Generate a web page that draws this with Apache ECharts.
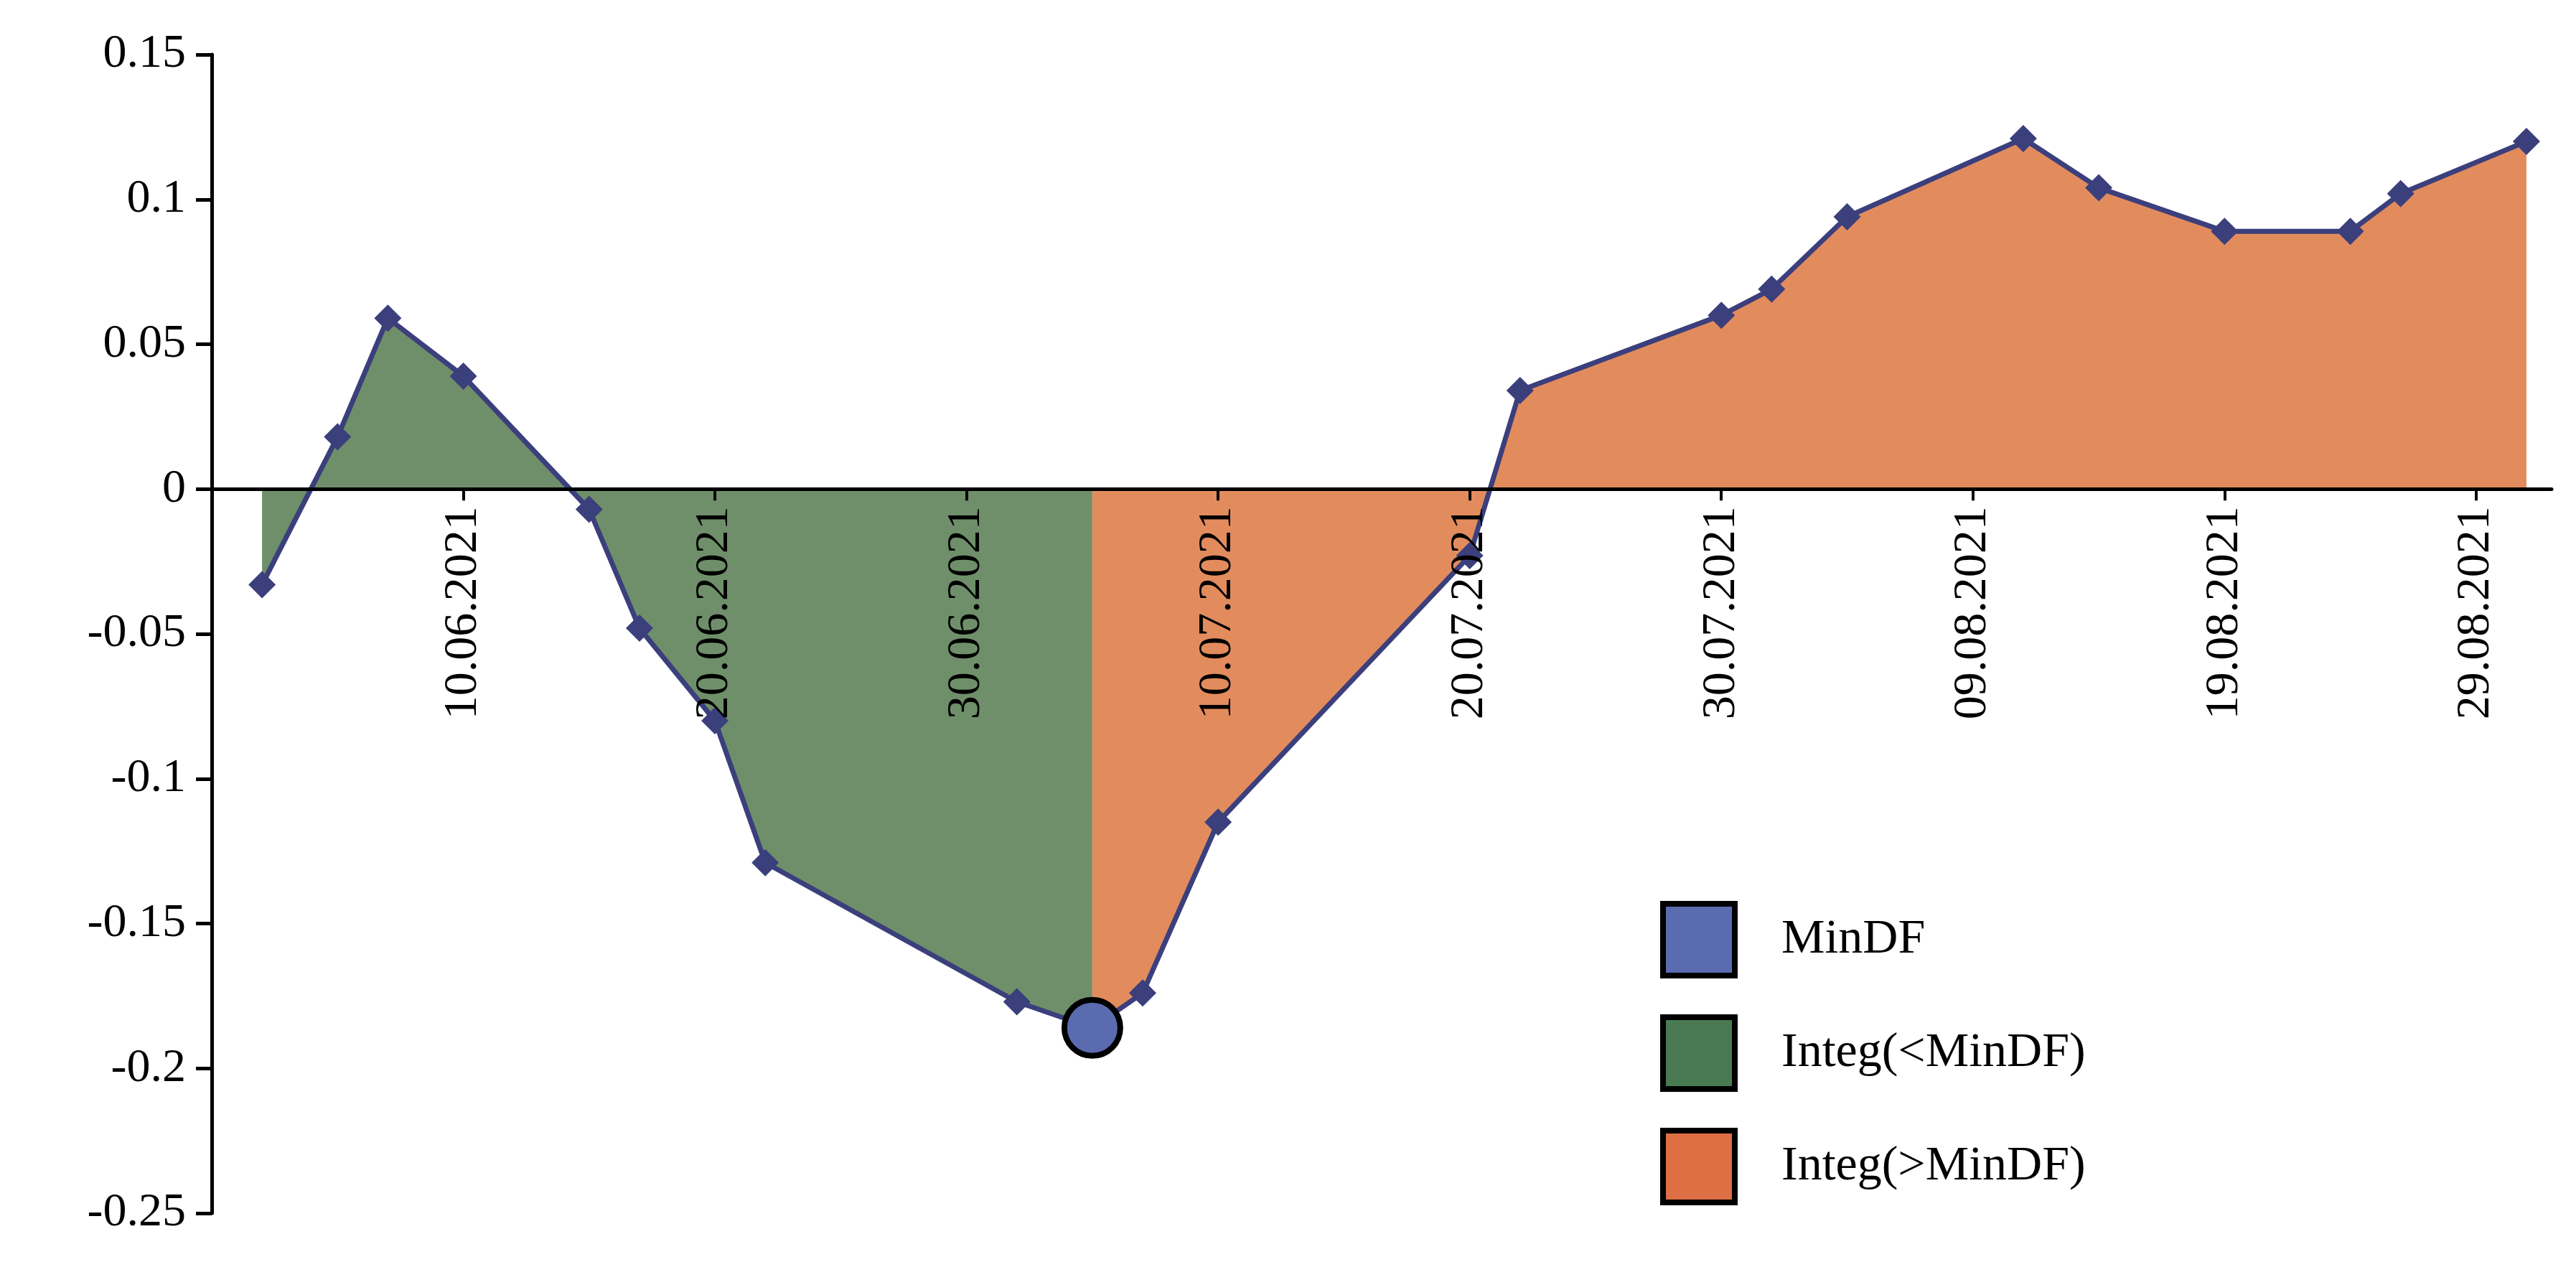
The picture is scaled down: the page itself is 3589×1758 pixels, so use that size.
<!DOCTYPE html>
<html>
<head>
<meta charset="utf-8">
<script src="https://cdn.jsdelivr.net/npm/echarts@6/dist/echarts.min.js"></script>
<style>
	html, body { margin: 0; padding: 0; background: #fff; }
	#chart { width: 3589px; height: 1758px; }
</style>
</head>
<body>
<div id="chart"></div>
<script>
	//数据
	var dates = ['02.06.2021', '05.06.2021', '07.06.2021', '10.06.2021', '15.06.2021', '17.06.2021',
		'20.06.2021', '22.06.2021', '02.07.2021', '05.07.2021', '07.07.2021', '10.07.2021',
		'20.07.2021', '22.07.2021', '30.07.2021', '01.08.2021', '04.08.2021', '11.08.2021',
		'14.08.2021', '19.08.2021', '24.08.2021', '26.08.2021', '31.08.2021'];
	var values = [-0.033, 0.018, 0.059, 0.039, -0.007, -0.048, -0.08, -0.129, -0.177, -0.186, -0.174, -0.115,
		-0.023, 0.034, 0.06, 0.069, 0.094, 0.121, 0.104, 0.089, 0.089, 0.102, 0.12];
	var minDate = '05.07.2021';
	var minValue = -0.186;
	var yTicks = [-0.25, -0.2, -0.15, -0.1, -0.05, 0, 0.05, 0.1, 0.15];
	var startDate = '31.05.2021';

	//日期转天数
	function toUTC(s) {
		var p = s.split('.');
		return Date.UTC(+p[2], +p[1] - 1, +p[0]);
	}
	var t0 = toUTC(startDate);
	function toDay(s) { return (toUTC(s) - t0) / 86400000; }
	function fmtDay(d) {
		var dt = new Date(t0 + d * 86400000);
		var dd = ('0' + dt.getUTCDate()).slice(-2);
		var mm = ('0' + (dt.getUTCMonth() + 1)).slice(-2);
		return dd + '.' + mm + '.' + dt.getUTCFullYear();
	}

	var minX = toDay(minDate);
	var allData = [];
	var greenData = [];
	var orangeData = [];
	for(var i = 0; i < dates.length; i++) {
		var x = toDay(dates[i]);
		allData.push([x, values[i]]);
		if(x <= minX) greenData.push([x, values[i]]);
		if(x >= minX) orangeData.push([x, values[i]]);
	}

	var font = 'Liberation Serif';
	var gridTop = 76, gridBottom = 68;
	var plotH = 1758 - gridTop - gridBottom;
	var yMin = yTicks[0], yMax = yTicks[yTicks.length - 1];
	//零线到底部的距离
	var zeroOffset = plotH * (0 - yMin) / (yMax - yMin);

	var myChart = echarts.init(document.getElementById('chart'));
	var option = {
		animation: false,
		backgroundColor: '#fff',
		grid: { left: 295, right: 34, top: gridTop, bottom: gridBottom },
		legend: {
			orient: 'vertical',
			left: 2308, top: 1250,
			itemWidth: 100, itemHeight: 100, itemGap: 50,
			icon: 'rect',
			textStyle: { fontFamily: font, fontSize: 68, color: '#000', padding: [0, 0, 0, 60] },
			data: [
				{ name: 'MinDF', itemStyle: { color: '#5b6bb0', borderColor: '#000', borderWidth: 8, opacity: 1 } },
				{ name: 'Integ(<MinDF)', itemStyle: { color: '#4a7a52', borderColor: '#000', borderWidth: 8, opacity: 1 } },
				{ name: 'Integ(>MinDF)', itemStyle: { color: '#de6f45', borderColor: '#000', borderWidth: 8, opacity: 1 } }
			]
		},
		xAxis: [{
			type: 'value',
			min: 0, max: 93, interval: 10,
			axisLine: { onZero: true, lineStyle: { color: '#000', width: 5 } },
			axisTick: { show: false },
			splitLine: { show: false },
			axisLabel: { show: false },
			z: 5
		}, {
			//标签放在零线下方
			type: 'value',
			position: 'bottom',
			offset: -zeroOffset,
			min: 0, max: 93, interval: 10,
			axisLine: { show: false, onZero: false },
			axisTick: { show: true, length: 16, lineStyle: { color: '#000', width: 4 } },
			splitLine: { show: false },
			axisLabel: {
				rotate: 90, margin: 24, showMaxLabel: false,
				fontFamily: font, fontSize: 66, color: '#000',
				formatter: function(v) { return (v === 0 || v > 90) ? '' : fmtDay(v); }
			},
			z: 5
		}],
		yAxis: {
			type: 'value',
			min: yMin, max: yMax, interval: 0.05,
			axisLine: { show: true, lineStyle: { color: '#000', width: 5 } },
			axisTick: { show: true, length: 22, lineStyle: { color: '#000', width: 5 } },
			splitLine: { show: false },
			axisLabel: {
				margin: 36, fontFamily: font, fontSize: 66, color: '#000',
				formatter: function(v) { return String(Math.round(v * 100) / 100); }
			}
		},
		series: [{
			name: 'Integ(<MinDF)',
			type: 'line',
			data: greenData,
			showSymbol: false,
			lineStyle: { width: 0 },
			itemStyle: { color: '#4a7a52' },
			areaStyle: { color: '#6f8f6a', opacity: 1 },
			z: 1
		}, {
			name: 'Integ(>MinDF)',
			type: 'line',
			data: orangeData,
			showSymbol: false,
			lineStyle: { width: 0 },
			itemStyle: { color: '#de6f45' },
			areaStyle: { color: '#e28c5e', opacity: 1 },
			z: 1
		}, {
			name: 'line',
			type: 'line',
			data: allData,
			symbol: 'diamond',
			symbolSize: 38,
			lineStyle: { color: '#3b3f7c', width: 7 },
			itemStyle: { color: '#3b3f7c' },
			z: 3
		}, {
			name: 'MinDF',
			type: 'scatter',
			data: [[minX, minValue]],
			symbolSize: 78,
			itemStyle: { color: '#5b6bb0', borderColor: '#000', borderWidth: 8, opacity: 1 },
			z: 10
		}]
	};
	myChart.setOption(option);
</script>
</body>
</html>
